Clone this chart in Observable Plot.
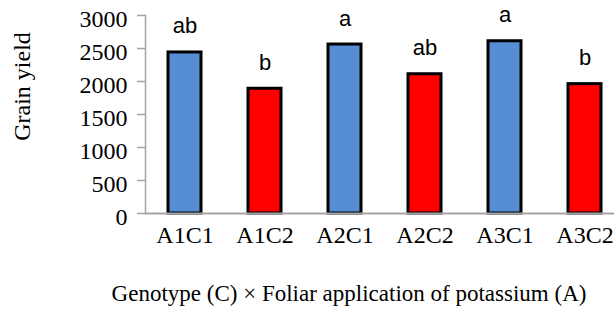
<!DOCTYPE html>
<html>
<head>
<meta charset="utf-8">
<script src="https://cdn.jsdelivr.net/npm/d3@7"></script>
<script src="https://cdn.jsdelivr.net/npm/@observablehq/plot@0.6"></script>
<style>
  html, body { margin: 0; padding: 0; background: #fff; }
  #chart svg { display: block; }
</style>
</head>
<body>
<div id="chart"></div>
<script>
const categories = ["A1C1", "A1C2", "A2C1", "A2C2", "A3C1", "A3C2"];
const genotypes = ["C1", "C2", "C1", "C2", "C1", "C2"];
const yields = [2440, 1890, 2560, 2110, 2610, 1960];
const letters = ["ab", "b", "a", "ab", "a", "b"];
const yTicks = [0, 500, 1000, 1500, 2000, 2500, 3000];
const yTitle = "Grain yield";
const xTitle = "Genotype (C) \u00d7 Foliar application of potassium (A)";

const data = categories.map((c, i) => ({cat: c, g: genotypes[i], v: yields[i], lab: letters[i]}));

const serif = "'Liberation Serif', 'Times New Roman', serif";
const sans = "'Liberation Sans', Arial, sans-serif";
const grey = "#a3a3a3";

const chart = Plot.plot({
  width: 614,
  height: 317,
  marginLeft: 145,
  marginRight: 0,
  marginTop: 15,
  marginBottom: 104,
  style: {fontFamily: serif, fontSize: "22px", background: "#fff", overflow: "hidden"},
  x: {domain: categories, range: [145, 623], paddingInner: 0.59, paddingOuter: 0.28},
  y: {domain: [0, 3000]},
  color: {domain: ["C1", "C2"], range: ["#558ed5", "#ff0000"]},
  marks: [
    Plot.frame({anchor: "left", stroke: grey, strokeWidth: 1.5}),
    Plot.axisY({ticks: yTicks, text: null, tickSize: 8, stroke: grey, strokeWidth: 1.5, label: null}),
    Plot.axisY({ticks: yTicks, tickFormat: "d", tickSize: 0, tickPadding: 18, label: null, fontSize: 24, fontFamily: serif, fill: "#000", dy: 3.5}),
    Plot.axisX({tickSize: 0, tickPadding: 12.5, label: null, fontSize: 24, fontFamily: serif, fill: "#000"}),
    Plot.barY(data, {x: "cat", y: "v", fill: "g", stroke: "#000", strokeWidth: 3}),
    Plot.ruleY([0], {stroke: grey, strokeWidth: 2}),
    Plot.text(data, {x: "cat", y: "v", text: "lab", lineAnchor: "bottom", dy: -19, fontSize: 22, fontFamily: sans, fill: "#000", style: {letterSpacing: "2px"}}),
    Plot.text([yTitle], {frameAnchor: "left", textAnchor: "middle", rotate: -90, dx: -123, dy: -28, fontSize: 24, fontFamily: serif, fill: "#000"}),
    Plot.text([xTitle], {frameAnchor: "bottom", textAnchor: "middle", dx: -31, dy: 87, fontSize: 23, fontFamily: serif, fill: "#000", style: {letterSpacing: "0.4px"}})
  ]
});
document.getElementById("chart").appendChild(chart);
</script>
</body>
</html>
